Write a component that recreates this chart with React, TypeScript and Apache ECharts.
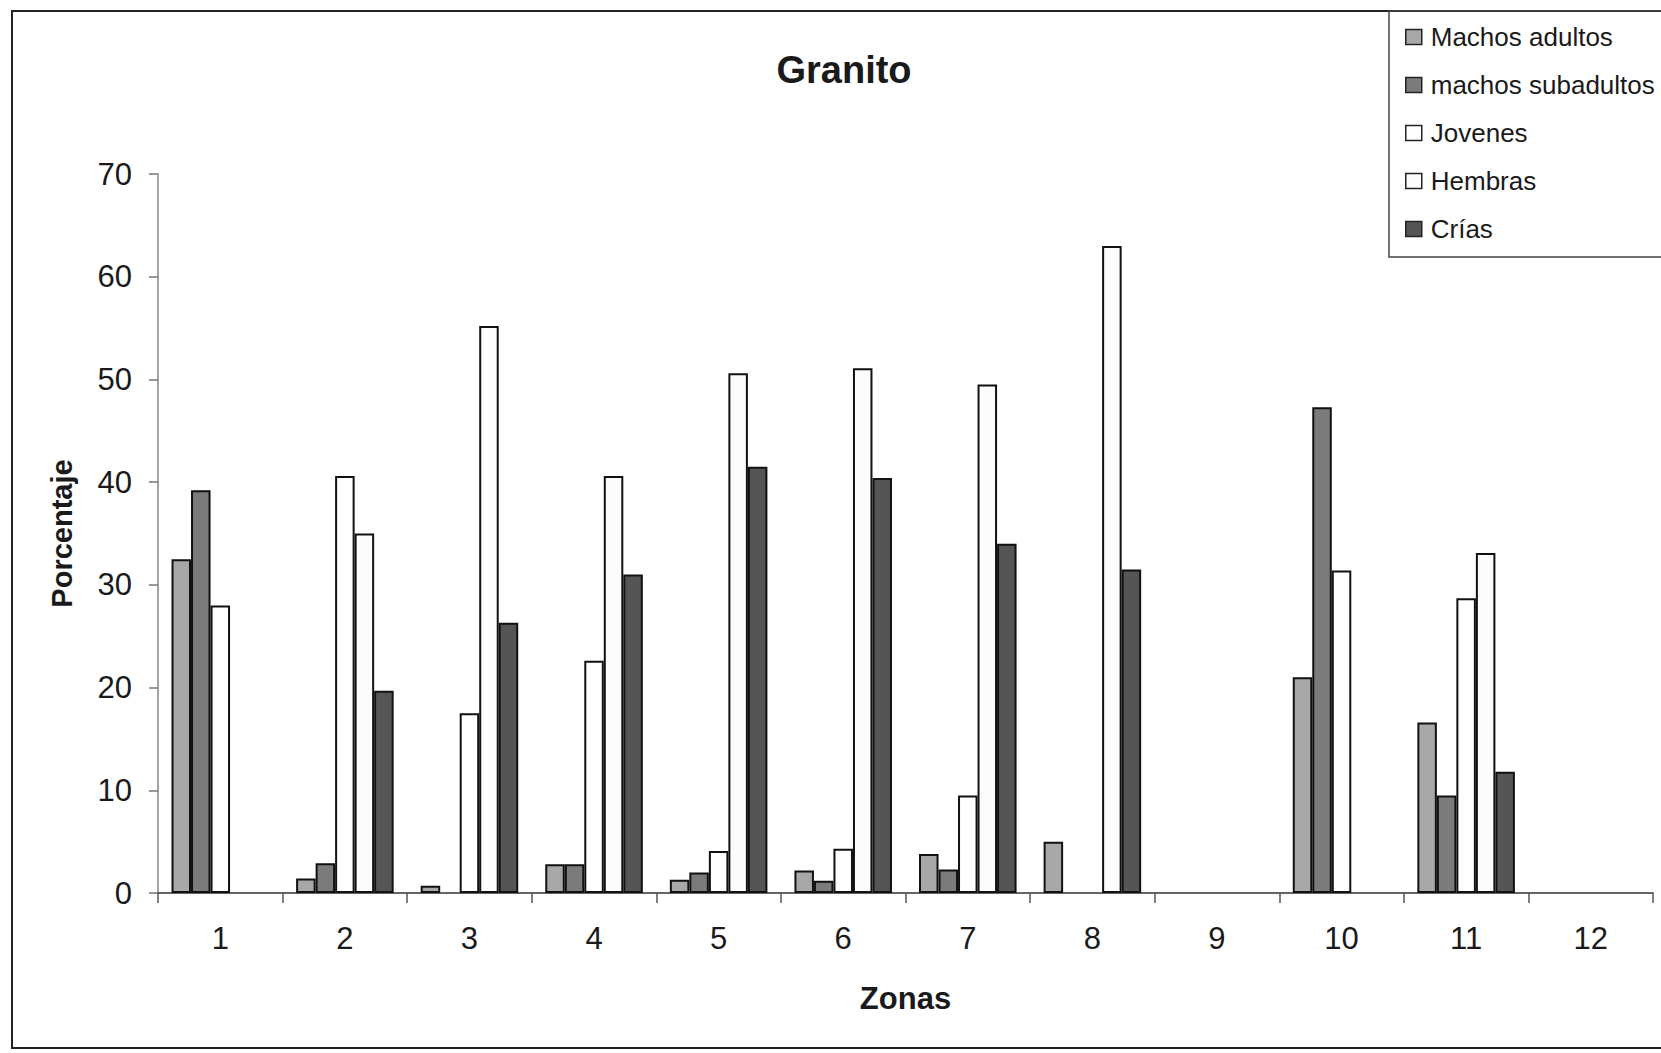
import React, { useEffect, useRef } from "react";
import * as echarts from "echarts";

const zonas = ["1", "2", "3", "4", "5", "6", "7", "8", "9", "10", "11", "12"];
const yTicks = [0, 10, 20, 30, 40, 50, 60, 70];

const machosAdultos = [32.5, 1.4, 0.7, 2.8, 1.3, 2.2, 3.8, 5.0, 0, 21.0, 16.6, 0];
const machosSubadultos = [39.2, 2.9, 0, 2.8, 2.0, 1.2, 2.3, 0, 0, 47.3, 9.5, 0];
const jovenes = [28.0, 40.6, 17.5, 22.6, 4.1, 4.3, 9.5, 0, 0, 31.4, 28.7, 0];
const hembras = [0, 35.0, 55.2, 40.6, 50.6, 51.1, 49.5, 63.0, 0, 0, 33.1, 0];
const crias = [0, 19.7, 26.3, 31.0, 41.5, 40.4, 34.0, 31.5, 0, 0, 11.8, 0];

const seriesNames = ["Machos adultos", "machos subadultos", "Jovenes", "Hembras", "Crías"];
const seriesData = [machosAdultos, machosSubadultos, jovenes, hembras, crias];
const seriesColors = ["#a8a8a8", "#7b7b7b", "#ffffff", "#fcfcfc", "#555555"];

const FONT = "'Liberation Sans', Arial, sans-serif";

export default function App() {
  const ref = useRef<HTMLDivElement>(null);

  useEffect(() => {
    if (!ref.current) return;
    const chart = echarts.init(ref.current, undefined, { renderer: "svg" });
    chart.setOption({
      animation: false,
      backgroundColor: "#ffffff",
      textStyle: { fontFamily: FONT, color: "#1a1a1a" },
      title: {
        text: "Granito",
        left: 839,
        top: 46,
        textAlign: "center",
        textStyle: { fontFamily: FONT, fontSize: 38, fontWeight: "bold", color: "#1a1a1a" },
      },
      legend: {
        orient: "vertical",
        left: 1400,
        top: 19,
        itemWidth: 16,
        itemHeight: 15,
        itemGap: 22,
        icon: "rect",
        data: seriesNames,
        itemStyle: { borderColor: "#222", borderWidth: 1.5 },
        textStyle: {
          fontFamily: FONT,
          fontSize: 26,
          color: "#1a1a1a",
          lineHeight: 26,
          padding: [0, 0, 0, 4],
        },
      },
      grid: { left: 158, top: 174, width: 1495, height: 719, containLabel: false },
      xAxis: {
        type: "category",
        data: zonas,
        name: "Zonas",
        nameLocation: "middle",
        nameGap: 90,
        nameTextStyle: { fontFamily: FONT, fontSize: 31, fontWeight: "bold", color: "#1a1a1a" },
        axisLine: { lineStyle: { color: "#333", width: 1.5 } },
        axisTick: { show: true, length: 10, interval: 0, lineStyle: { color: "#555", width: 1.5 } },
        axisLabel: { fontFamily: FONT, fontSize: 31, color: "#1a1a1a", margin: 30, interval: 0 },
        splitLine: { show: false },
      },
      yAxis: {
        type: "value",
        min: yTicks[0],
        max: yTicks[yTicks.length - 1],
        interval: 10,
        name: "Porcentaje",
        nameLocation: "middle",
        nameGap: 82,
        nameRotate: 90,
        nameTextStyle: { fontFamily: FONT, fontSize: 29, fontWeight: "bold", color: "#1a1a1a" },
        axisLine: { show: true, lineStyle: { color: "#888", width: 1.5 } },
        axisTick: { show: true, length: 9, lineStyle: { color: "#777", width: 1.5 } },
        axisLabel: { fontFamily: FONT, fontSize: 31, color: "#1a1a1a", margin: 26 },
        splitLine: { show: false },
      },
      series: seriesNames.map((name, i) => ({
        name,
        type: "bar",
        data: seriesData[i].map((v) => (v === 0 ? "-" : v)),
        barGap: "0%",
        barCategoryGap: "21.7%",
        itemStyle: { color: seriesColors[i], borderColor: "#111", borderWidth: 2 },
      })),
      graphic: [
        {
          type: "rect",
          shape: { x: 12, y: 11, width: 1700, height: 1037 },
          style: { fill: "none", stroke: "#222", lineWidth: 2 },
          silent: true,
          z: -1,
        },
        {
          type: "rect",
          shape: { x: 1389, y: 11, width: 320, height: 246 },
          style: { fill: "none", stroke: "#444", lineWidth: 1.5 },
          silent: true,
        },
      ],
    });
    return () => chart.dispose();
  }, []);

  return (
    <div
      ref={ref}
      style={{ position: "fixed", left: 0, top: 0, width: 1661, height: 1053, background: "#fff" }}
    />
  );
}
